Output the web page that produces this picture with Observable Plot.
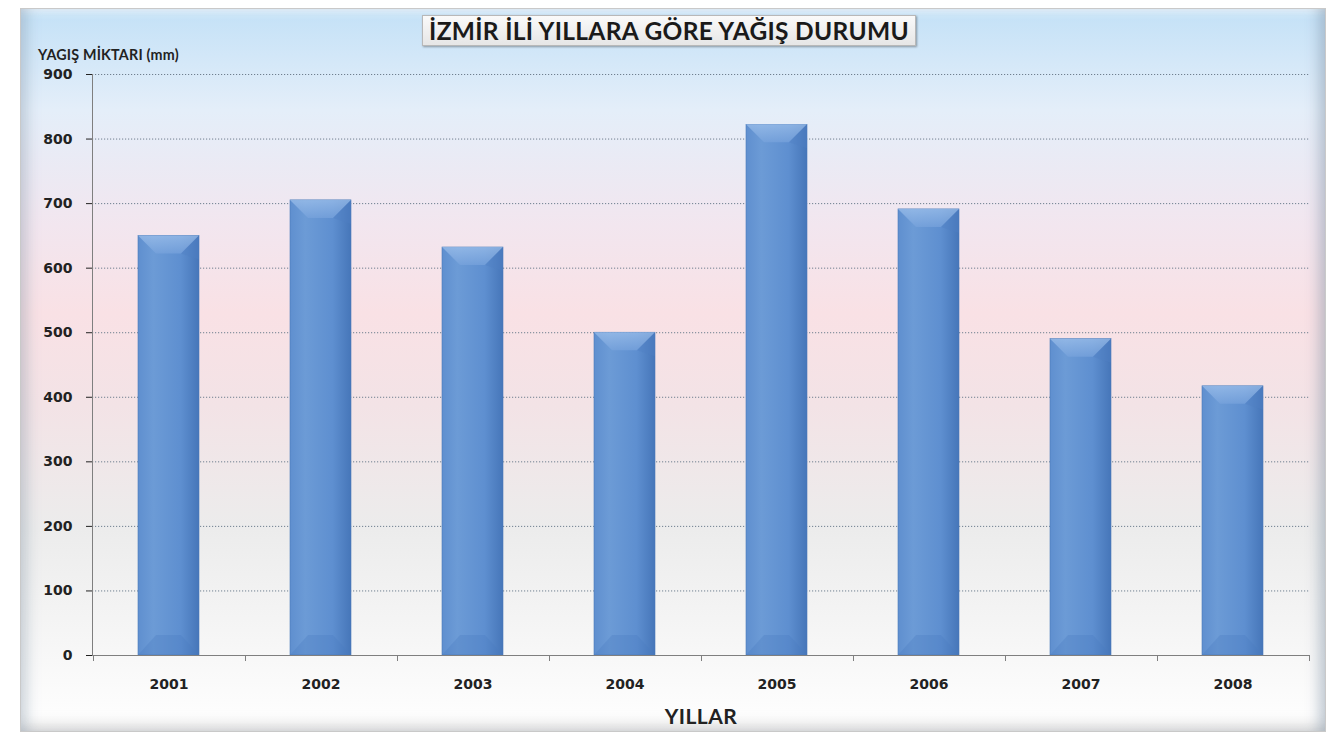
<!DOCTYPE html>
<html><head><meta charset="utf-8">
<script src="https://cdn.jsdelivr.net/npm/d3@7"></script>
<script src="https://cdn.jsdelivr.net/npm/@observablehq/plot@0.6"></script>
<style>
html,body{margin:0;padding:0;background:#fff;}
#wrap{position:relative;width:1333px;height:741px;overflow:hidden;background:#fff;}
#panel{position:absolute;left:20px;top:8px;width:1304px;height:722px;
 background:linear-gradient(to bottom,#c3e1f7 0%,#e4eef9 14%,#f2e6ef 30%,#f9e1e5 42%,#f3e3e6 55%,#ececec 72%,#f5f5f5 86%,#ffffff 100%);
 border:1px solid #c9c9c9;box-shadow:inset 14px 0 14px -8px rgba(120,140,160,0.35),inset -14px 0 14px -8px rgba(120,140,160,0.45),inset 0 -14px 14px -8px rgba(150,150,150,0.35),inset 0 8px 10px -6px rgba(255,255,255,0.9);}
#chart{position:absolute;left:0;top:0;}
#title{position:absolute;left:422px;top:15px;width:494px;height:31px;box-sizing:border-box;
 background:linear-gradient(to bottom,#fafafa,#e6e6e6);border:1px solid #b8b8b8;box-shadow:1px 1px 2px rgba(0,0,0,0.35);
 font-family:Lato,"Open Sans",sans-serif;font-weight:bold;font-size:24.5px;color:#1a1a1a;text-align:center;line-height:29px;letter-spacing:0.3px;white-space:nowrap;}
#ylabel{position:absolute;left:38px;top:46px;font-family:Lato,"Open Sans",sans-serif;font-weight:bold;font-size:14.3px;color:#222;letter-spacing:0.2px;}
#xlabel{position:absolute;left:0;width:1402px;top:703px;text-align:center;font-family:Lato,"Open Sans",sans-serif;font-weight:bold;font-size:21px;color:#222;letter-spacing:0.5px;}
</style></head>
<body>
<div id="wrap">
 <div id="panel"></div>
 <div id="chart"></div>
 <div id="title">İZMİR İLİ YILLARA GÖRE YAĞIŞ DURUMU</div>
 <div id="ylabel">YAGIŞ MİKTARI (mm)</div>
 <div id="xlabel">YILLAR</div>
</div>
<script>
const years = ["2001","2002","2003","2004","2005","2006","2007","2008"];
const rainfall = [650, 705, 632, 500, 822, 691, 490, 417];
const yTicks = [0,100,200,300,400,500,600,700,800,900];

const data = years.map((y,i)=>({year:y, value:rainfall[i]}));

const defsMark = () => {
  const defs = d3.create("svg:defs");
  const g = defs.append("linearGradient").attr("id","barGrad").attr("x1","0").attr("x2","1").attr("y1","0").attr("y2","0");
  g.append("stop").attr("offset","0%").attr("stop-color","#5f8fcf");
  g.append("stop").attr("offset","25%").attr("stop-color","#6c9bd6");
  g.append("stop").attr("offset","70%").attr("stop-color","#5e8fd0");
  g.append("stop").attr("offset","100%").attr("stop-color","#4676b9");
  const t = defs.append("linearGradient").attr("id","topGrad").attr("x1","0").attr("x2","0").attr("y1","0").attr("y2","1");
  t.append("stop").attr("offset","0%").attr("stop-color","#a0c2ec");
  t.append("stop").attr("offset","100%").attr("stop-color","#78a3dc");
  return defs.node();
};

const bevelMark = (index, scales, values, dims) => {
  const x = scales.x, y = scales.y;
  const bw = x.bandwidth();
  const g = d3.create("svg:g");
  data.forEach(d => {
    const x0 = x(d.year), x1 = x0 + bw, yt = y(d.value);
    const h = 18, ins = 18;
    g.append("path")
      .attr("d", `M${x0},${yt}L${x1},${yt}L${x1-ins},${yt+h}L${x0+ins},${yt+h}Z`)
      .attr("fill", "url(#topGrad)").attr("opacity", 0.7);
    g.append("path")
      .attr("d", `M${x1},${yt}L${x1},${yt+h+6}L${x1-ins},${yt+h}Z`)
      .attr("fill", "#4f80c2").attr("opacity", 0.4);
    const yb = y(0);
    g.append("path")
      .attr("d", `M${x0},${yb}L${x0+ins},${yb-20}L${x1-ins},${yb-20}L${x1},${yb}Z`)
      .attr("fill", "#4a7cc0").attr("opacity", 0.3);
  });
  return g.node();
};

const axesMark = (index, scales, values, dims) => {
  const x = scales.x, y = scales.y;
  const g = d3.create("svg:g").attr("stroke","#7f7f7f").attr("stroke-width",1);
  const left = dims.marginLeft, right = dims.width - dims.marginRight;
  const y0 = y(0), yTop = y(900);
  g.append("line").attr("x1",left+0.5).attr("x2",left+0.5).attr("y1",yTop).attr("y2",y0);
  g.append("line").attr("x1",left).attr("x2",right).attr("y1",y0+0.5).attr("y2",y0+0.5);
  const step = x.step ? x.step() : (right-left)/years.length;
  const bw = x.bandwidth();
  const bounds = years.map(d => x(d) - (step - bw)/2);
  bounds.push(bounds[bounds.length-1] + step);
  for (const b of bounds) {
    g.append("line").attr("x1",Math.round(b)+0.5).attr("x2",Math.round(b)+0.5).attr("y1",y0).attr("y2",y0+6);
  }
  return g.node();
};

const chart = Plot.plot({
  width: 1333,
  height: 741,
  marginLeft: 92,
  marginRight: 24,
  marginTop: 74,
  marginBottom: 86,
  style: {background: "transparent", fontFamily: "'DejaVu Sans', sans-serif", fontWeight: "bold", fontSize: "14px", color: "#222"},
  x: {domain: years, paddingInner: 0.6, paddingOuter: 0.3, label: null, tickSize: 0, tickPadding: 24},
  y: {domain: [0, 900], ticks: yTicks, label: null, tickSize: 6, tickPadding: 14},
  marks: [
    defsMark,
    Plot.ruleY(yTicks.filter(t => t > 0), {stroke: "#6f7f8f", strokeDasharray: "1.2,1.8", strokeWidth: 1}),
    Plot.barY(data, {x: "year", y: "value", fill: "url(#barGrad)", stroke: "#4a7ab8", strokeWidth: 0.6}),
    bevelMark,
    axesMark
  ]
});
document.getElementById("chart").appendChild(chart);
</script>
</body></html>
